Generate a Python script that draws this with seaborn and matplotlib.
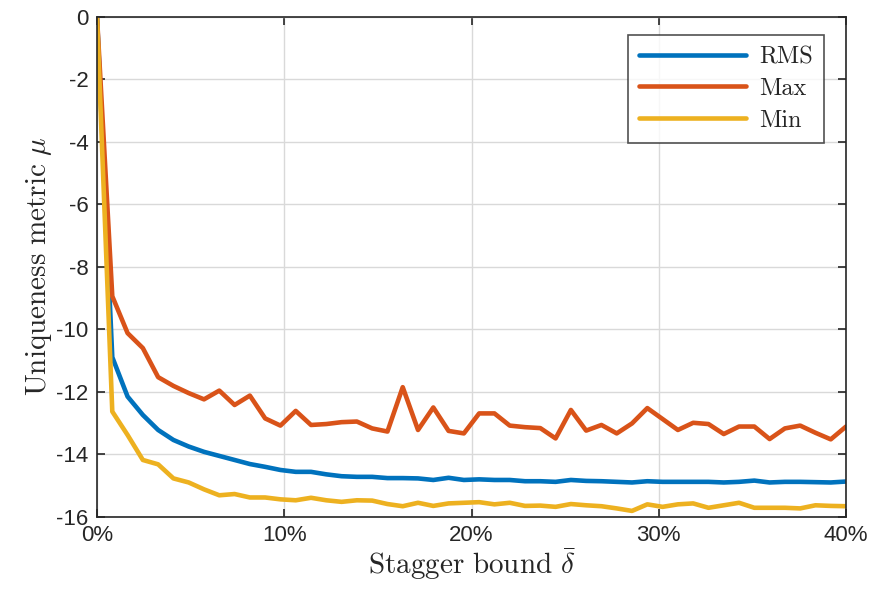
import numpy as np
import pandas as pd
import seaborn as sns
import matplotlib
matplotlib.use("Agg")
import matplotlib.pyplot as plt
from matplotlib.ticker import FixedLocator, FixedFormatter

# Stagger bound in percent: 50 evenly spaced settings from 0% to 40%
stagger_pct = np.linspace(0, 40, 50)

rms = [0.0, -10.9, -12.16, -12.75, -13.23, -13.55, -13.76, -13.93, -14.06, -14.19,
       -14.32, -14.41, -14.51, -14.57, -14.57, -14.65, -14.71, -14.73, -14.73, -14.77,
       -14.77, -14.78, -14.83, -14.76, -14.83, -14.81, -14.83, -14.83, -14.87, -14.87,
       -14.89, -14.83, -14.86, -14.87, -14.89, -14.91, -14.87, -14.89, -14.89, -14.89,
       -14.89, -14.91, -14.89, -14.85, -14.91, -14.89, -14.89, -14.90, -14.91, -14.88]

maxv = [0.0, -8.95, -10.13, -10.61, -11.54, -11.82, -12.05, -12.25, -11.97, -12.43,
        -12.13, -12.86, -13.09, -12.62, -13.07, -13.04, -12.98, -12.96, -13.18, -13.28,
        -11.86, -13.23, -12.51, -13.26, -13.34, -12.70, -12.70, -13.09, -13.14, -13.17,
        -13.50, -12.59, -13.25, -13.07, -13.34, -13.02, -12.53, -12.88, -13.23, -13.00,
        -13.04, -13.36, -13.12, -13.12, -13.52, -13.18, -13.09, -13.32, -13.53, -13.12]

minv = [0.0, -12.64, -13.39, -14.19, -14.33, -14.78, -14.91, -15.13, -15.32, -15.28,
        -15.39, -15.39, -15.45, -15.48, -15.40, -15.48, -15.53, -15.48, -15.49, -15.60,
        -15.67, -15.56, -15.66, -15.58, -15.56, -15.54, -15.61, -15.56, -15.66, -15.65,
        -15.69, -15.60, -15.64, -15.67, -15.74, -15.82, -15.61, -15.69, -15.61, -15.58,
        -15.72, -15.64, -15.56, -15.72, -15.72, -15.72, -15.74, -15.64, -15.66, -15.67]

series_names = ["RMS", "Max", "Min"]
colors = ["#0072BD", "#D95319", "#EDB120"]

xticks = [0, 10, 20, 30, 40]
xtick_labels = ["0%", "10%", "20%", "30%", "40%"]
yticks = [0, -2, -4, -6, -8, -10, -12, -14, -16]
ytick_labels = ["0", "-2", "-4", "-6", "-8", "-10", "-12", "-14", "-16"]

df = pd.concat([
    pd.DataFrame({"stagger": stagger_pct, "mu": vals, "series": name})
    for name, vals in zip(series_names, [rms, maxv, minv])
], ignore_index=True)

sns.set_theme(style="white")
plt.rcParams["font.family"] = ["Liberation Sans", "DejaVu Sans"]
plt.rcParams["mathtext.fontset"] = "cm"
plt.rcParams["axes.unicode_minus"] = False

fig = plt.figure(figsize=(8.77, 5.91), dpi=100)
ax = fig.add_axes([0.1106, 0.126, 0.8541, 0.846])

sns.lineplot(data=df, x="stagger", y="mu", hue="series", hue_order=series_names,
             palette=colors, linewidth=3.3, ax=ax, legend=True)

ax.set_xlim(0, 40)
ax.set_ylim(-16, 0)
ax.xaxis.set_major_locator(FixedLocator(xticks))
ax.xaxis.set_major_formatter(FixedFormatter(xtick_labels))
ax.yaxis.set_major_locator(FixedLocator(yticks))
ax.yaxis.set_major_formatter(FixedFormatter(ytick_labels))

ax.grid(True, color="#d9d9d9", linewidth=1.0)
ax.set_axisbelow(True)
for sp in ax.spines.values():
    sp.set_visible(True)
    sp.set_color("#262626")
    sp.set_linewidth(1.2)

ax.tick_params(axis="both", which="major", direction="in", length=6, width=1.2,
               color="#262626", labelsize=16, labelcolor="#262626",
               top=True, right=True, bottom=True, left=True)
ax.tick_params(axis="x", pad=6)
ax.tick_params(axis="y", pad=6)

ax.set_xlabel(r"$\mathrm{Stagger\ bound}\ \bar{\delta}$", fontsize=21, color="#262626", labelpad=0)
ax.set_ylabel(r"$\mathrm{Uniqueness\ metric}\ \mu$", fontsize=21, color="#262626", labelpad=2)

leg = ax.legend(loc="upper right", bbox_to_anchor=(0.9706, 0.963), borderaxespad=0,
                fancybox=False, frameon=True, handlelength=4.4, handletextpad=0.55,
                labelspacing=0.4, borderpad=0.45,
                prop={"family": "cmr10", "size": 17.5})
leg.get_frame().set_edgecolor("#262626")
leg.get_frame().set_linewidth(1.2)
for line in leg.get_lines():
    line.set_linewidth(3.3)

fig.savefig("out.png", dpi=100)
